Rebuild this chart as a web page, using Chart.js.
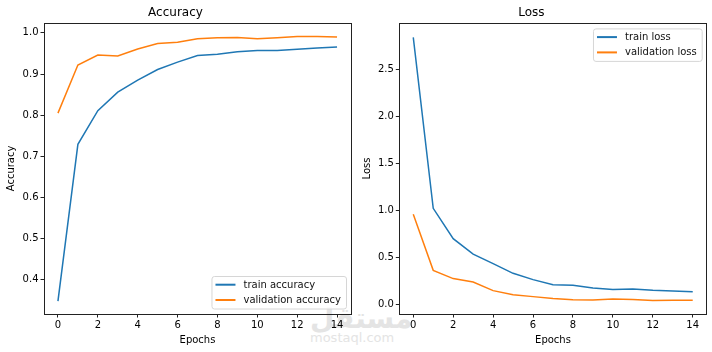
<!DOCTYPE html>
<html>
<head>
<meta charset="utf-8">
<script src="https://cdn.jsdelivr.net/npm/chart.js@4/dist/chart.umd.min.js"></script>
<style>
  html, body { margin: 0; padding: 0; background: #fff; }
  #wrap { position: relative; width: 712px; height: 352px; overflow: hidden; }
  .pane { position: absolute; top: 0; width: 356px; height: 352px; }
  #wm { position: absolute; left: 310px; top: 303px; width: 66px; color: #e4e4e4; font-family: "DejaVu Sans", sans-serif; text-align: center; line-height: 1; pointer-events: none; }
  #wm .ar { font-family: "Noto Sans", "DejaVu Sans", sans-serif; font-size: 28px; font-weight: bold; }
  #wm .en { font-size: 13px; margin-top: 0; }
</style>
</head>
<body>
<div id="wrap">
  <div id="wm"><div class="ar">مستقل</div><div class="en">mostaql.com</div></div>
  <div class="pane" style="left:0"><canvas id="acc" width="356" height="352"></canvas></div>
  <div class="pane" style="left:356px"><canvas id="loss" width="356" height="352"></canvas></div>
</div>
<script>
const epochs = [0, 1, 2, 3, 4, 5, 6, 7, 8, 9, 10, 11, 12, 13, 14]
const trainAcc = [0.348, 0.729, 0.811, 0.856, 0.885, 0.911, 0.929, 0.945, 0.948, 0.954, 0.957, 0.957, 0.960, 0.963, 0.966]
const valAcc = [0.805, 0.922, 0.946, 0.944, 0.961, 0.974, 0.977, 0.986, 0.988, 0.989, 0.986, 0.988, 0.991, 0.991, 0.990]
const trainLoss = [2.845, 1.025, 0.702, 0.538, 0.436, 0.333, 0.266, 0.212, 0.205, 0.177, 0.160, 0.166, 0.152, 0.146, 0.138]
const valLoss = [0.961, 0.365, 0.277, 0.240, 0.149, 0.106, 0.085, 0.064, 0.053, 0.050, 0.060, 0.054, 0.043, 0.046, 0.046]
const xTicks = [0, 2, 4, 6, 8, 10, 12, 14]
const accTicks = [0.4, 0.5, 0.6, 0.7, 0.8, 0.9, 1.0]
const lossTicks = [0.0, 0.5, 1.0, 1.5, 2.0, 2.5]

const BLUE = '#1f77b4'
const ORANGE = '#ff7f0e'
const FONT = '"DejaVu Sans", sans-serif'

function pts(ys) { return epochs.map((e, i) => ({ x: e, y: ys[i] })) }

// box around the plot area, like matplotlib spines
const framePlugin = {
  id: 'frame',
  afterDraw(chart) {
    const a = chart.chartArea, ctx = chart.ctx
    ctx.save()
    ctx.strokeStyle = '#222'
    ctx.lineWidth = 1
    ctx.strokeRect(Math.round(a.left) + 0.5, Math.round(a.top) + 0.5, Math.round(a.right - a.left), Math.round(a.bottom - a.top))
    ctx.restore()
  }
}

// legend drawn inside the plot area
const innerLegend = {
  id: 'innerLegend',
  afterDraw(chart, args, opts) {
    const ctx = chart.ctx, a = chart.chartArea
    ctx.save()
    ctx.font = '10px ' + FONT
    const sets = chart.data.datasets
    const tw = Math.max(...sets.map(d => ctx.measureText(d.label).width))
    const w = 4 + 20 + 8 + tw + 5
    const h = 32.5
    const x = a.right - 5 - w
    const y = opts.corner === 'lower' ? a.bottom - 5.5 - h : a.top + 5.5
    ctx.beginPath()
    ctx.roundRect(x + 0.5, y + 0.5, w, h, 2.5)
    ctx.fillStyle = 'rgba(255,255,255,0.8)'
    ctx.fill()
    ctx.strokeStyle = '#d6d6d6'
    ctx.lineWidth = 1
    ctx.stroke()
    sets.forEach((d, i) => {
      const ry = y + 8.7 + i * 15.3
      ctx.strokeStyle = d.borderColor
      ctx.lineWidth = 2
      ctx.beginPath()
      ctx.moveTo(x + 4, ry)
      ctx.lineTo(x + 24, ry)
      ctx.stroke()
      ctx.fillStyle = '#111'
      ctx.textBaseline = 'middle'
      ctx.fillText(d.label, x + 32, ry + 0.5)
    })
    ctx.restore()
  }
}

function makeChart(id, title, yLabel, sets, yMin, yMax, yTicks, corner, padRight) {
  const ctx = document.getElementById(id).getContext('2d')
  return new Chart(ctx, {
    type: 'line',
    data: {
      datasets: sets.map(s => ({
        label: s.label, data: pts(s.data), borderColor: s.color, backgroundColor: s.color,
        borderWidth: 1.5, pointRadius: 0, tension: 0, fill: false
      }))
    },
    options: {
      responsive: false, animation: false, events: [],
      layout: { padding: { left: 0, right: padRight, top: 0, bottom: 0 } },
      plugins: {
        legend: { display: false },
        tooltip: { enabled: false },
        title: { display: true, text: title, color: '#000', font: { family: FONT, size: 12, weight: 'normal' }, padding: { top: 6, bottom: 2.5 } },
        innerLegend: { corner: corner }
      },
      scales: {
        x: {
          type: 'linear', min: -0.7, max: 14.7,
          afterBuildTicks: s => { s.ticks = xTicks.map(v => ({ value: v })) },
          afterFit: s => { s.height = 38 },
          ticks: { color: '#000', font: { family: FONT, size: 10 }, padding: 2, maxRotation: 0, callback: v => String(v) },
          grid: { display: true, drawOnChartArea: false, drawTicks: true, tickLength: 3.5, tickColor: '#222' },
          border: { display: false },
          title: { display: true, text: 'Epochs', color: '#000', font: { family: FONT, size: 10 }, padding: { top: 0, bottom: 5.5 } }
        },
        y: {
          type: 'linear', min: yMin, max: yMax,
          afterBuildTicks: s => { s.ticks = yTicks.map(v => ({ value: v })) },
          afterFit: s => { s.width = id === 'acc' ? 44 : 43.3 },
          ticks: { color: '#000', font: { family: FONT, size: 10 }, padding: 2, callback: v => Number(v).toFixed(1) },
          grid: { display: true, drawOnChartArea: false, drawTicks: true, tickLength: 3.5, tickColor: '#222' },
          border: { display: false },
          title: { display: true, text: yLabel, color: '#000', font: { family: FONT, size: 10 }, padding: { top: 5, bottom: 0 } }
        }
      }
    },
    plugins: [framePlugin, innerLegend]
  })
}

makeChart('acc', 'Accuracy', 'Accuracy', [
  { label: 'train accuracy', data: trainAcc, color: BLUE },
  { label: 'validation accuracy', data: valAcc, color: ORANGE }
], 0.3165, 1.0243, accTicks, 'lower', 5)

makeChart('loss', 'Loss', 'Loss', [
  { label: 'train loss', data: trainLoss, color: BLUE },
  { label: 'validation loss', data: valLoss, color: ORANGE }
], -0.1, 3.0, lossTicks, 'upper', 5.3)
</script>
</body>
</html>
